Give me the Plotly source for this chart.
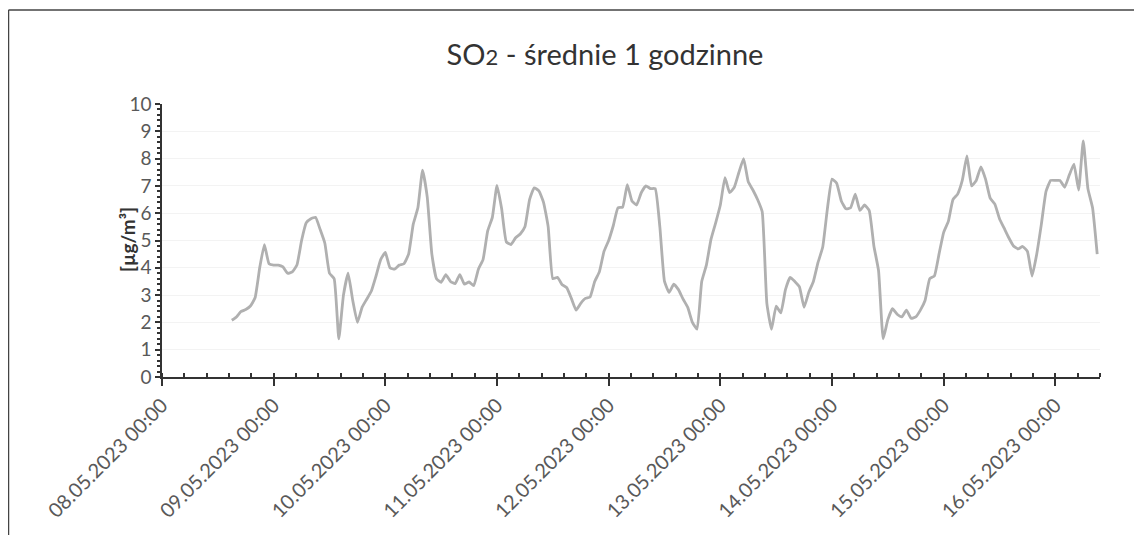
import plotly.graph_objects as go
import pandas as pd

# hourly SO2 values, 08.05.2023 15:00 -> 16.05.2023 09:00
start_time = "2023-05-08 15:00"
day_08 = [2.08, 2.2, 2.4, 2.47, 2.6, 2.9, 4.0, 4.85, 4.15]
day_09 = [4.1, 4.1, 4.03, 3.8, 3.85, 4.1, 5.0, 5.65, 5.8, 5.85, 5.4, 4.9,
          3.8, 3.6, 1.4, 3.0, 3.8, 2.8, 2.0, 2.55, 2.85, 3.15, 3.7, 4.3]
day_10 = [4.56, 4.0, 3.95, 4.1, 4.15, 4.5, 5.6, 6.2, 7.58, 6.6, 4.5, 3.6,
          3.47, 3.75, 3.5, 3.42, 3.75, 3.4, 3.48, 3.35, 3.95, 4.3, 5.35, 5.85]
day_11 = [7.02, 6.16, 4.95, 4.85, 5.1, 5.24, 5.5, 6.5, 6.93, 6.82, 6.4, 5.5,
          3.6, 3.65, 3.38, 3.27, 2.87, 2.45, 2.7, 2.88, 2.93, 3.5, 3.85, 4.6]
day_12 = [5.0, 5.55, 6.2, 6.22, 7.05, 6.45, 6.3, 6.75, 7.0, 6.9, 6.9, 5.5,
          3.5, 3.1, 3.4, 3.2, 2.85, 2.55, 2.0, 1.75, 3.5, 4.1, 5.05, 5.65]
day_13 = [6.3, 7.3, 6.75, 6.95, 7.5, 8.0, 7.15, 6.85, 6.5, 6.05, 2.7, 1.75,
          2.6, 2.35, 3.2, 3.65, 3.5, 3.3, 2.55, 3.1, 3.5, 4.2, 4.75, 6.15]
day_14 = [7.25, 7.1, 6.45, 6.16, 6.2, 6.7, 6.1, 6.3, 6.1, 4.8, 3.9, 1.4,
          2.1, 2.5, 2.3, 2.2, 2.45, 2.15, 2.2, 2.45, 2.8, 3.6, 3.7, 4.5]
day_15 = [5.3, 5.7, 6.5, 6.7, 7.2, 8.1, 7.0, 7.2, 7.7, 7.25, 6.55, 6.33,
          5.8, 5.45, 5.1, 4.8, 4.69, 4.78, 4.6, 3.7, 4.5, 5.6, 6.8, 7.2]
day_16 = [7.2, 7.2, 6.95, 7.4, 7.8, 6.85, 8.65, 6.9, 6.2, 4.5]

values = day_08 + day_09 + day_10 + day_11 + day_12 + day_13 + day_14 + day_15 + day_16
times = pd.date_range(start_time, periods=len(values), freq="h")

# the page adds an 8px body margin, so the figure is laid out 8px up/left
OFF = 8
W, H = 1142 - OFF, 535 - OFF
L, T = 162 - OFF, 104 - OFF
R = W - (1100 - OFF)
B = H - (377 - OFF)
pw, ph = W - L - R, H - T - B

def px_x(px):
    return (px - OFF - L) / pw

def px_y(py):
    return (H - B - (py - OFF)) / ph

fig = go.Figure()
fig.add_trace(go.Scatter(
    x=times, y=values, mode="lines",
    line=dict(color="#b0b0b0", width=2.8, shape="spline", smoothing=0.4),
    showlegend=False, hoverinfo="x+y"
))

fig.update_layout(
    width=W, height=H,
    margin=dict(l=L, r=R, t=T, b=B, autoexpand=False),
    paper_bgcolor="white", plot_bgcolor="white",
    font=dict(family="Lato, 'Open Sans', sans-serif", color="#595959", size=18),
    title=dict(
        text='SO<span style="font-size:22px">2</span> - średnie 1 godzinne',
        x=(605 - OFF) / W, xanchor="center", xref="container",
        y=1 - (55 - OFF) / H, yanchor="middle",
        font=dict(size=29, color="#333333")
    ),
    xaxis=dict(
        type="date",
        range=["2023-05-08 00:00", "2023-05-16 09:36"],
        tick0="2023-05-08", dtick=86400000,
        tickformat="%d.%m.%Y %H:%M", tickangle=-45,
        ticks="outside", ticklen=7, tickcolor="#333333", tickwidth=1.5,
        showline=True, linecolor="#333333", linewidth=1.5,
        showgrid=False, zeroline=False,
        minor=dict(dtick=17280000, tick0="2023-05-08", ticks="inside",
                   ticklen=4, tickcolor="#333333", showgrid=False),
        tickfont=dict(size=20, color="#595959"),
    ),
    yaxis=dict(
        range=[0, 10], dtick=1,
        ticks="outside", ticklen=5, tickcolor="#333333", tickwidth=1.5,
        showline=True, linecolor="#333333", linewidth=1.5,
        showgrid=True, gridcolor="#f3f3f3", zeroline=False,
        minor=dict(dtick=0.2, ticks="outside", ticklen=3,
                   tickcolor="#333333", showgrid=False),
        tickfont=dict(size=19, color="#595959"),
    ),
)

fig.add_annotation(
    text="<b>[µg/m³]</b>", textangle=-90, showarrow=False,
    xref="paper", yref="paper", x=px_x(127), y=px_y(240),
    xanchor="center", yanchor="middle",
    font=dict(size=19, color="#333333"),
)

# outer chart frame: left, top and right edges (bottom is cut off in the scan)
frame_x0, frame_x1 = px_x(8.5), px_x(1139)
frame_y0, frame_y1 = px_y(535), px_y(10)
for x0, y0, x1, y1 in [(frame_x0, frame_y0, frame_x0, frame_y1),
                       (frame_x0, frame_y1, frame_x1, frame_y1),
                       (frame_x1, frame_y1, frame_x1, frame_y0)]:
    fig.add_shape(type="line", xref="paper", yref="paper",
                  x0=x0, y0=y0, x1=x1, y1=y1,
                  line=dict(color="#444444", width=1.5), layer="below")

fig.write_html("out.html")
